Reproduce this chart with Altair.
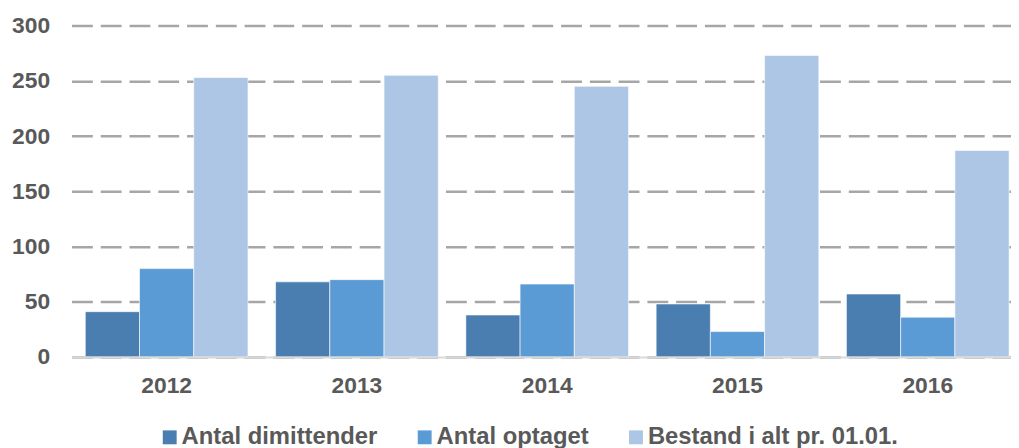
import altair as alt
import pandas as pd

years = ["2012", "2013", "2014", "2015", "2016"]
series = ["Antal dimittender", "Antal optaget", "Bestand i alt pr. 01.01."]
dimittender = [41, 68, 38, 48, 57]
optaget = [80, 70, 66, 23, 36]
bestand = [253, 255, 245, 273, 187]
colors = ["#4a7eb0", "#5b9bd5", "#adc6e5"]

rows = []
for i, y in enumerate(years):
    for s, vals in zip(series, [dimittender, optaget, bestand]):
        rows.append({"year": y, "series": s, "value": vals[i]})
df = pd.DataFrame(rows)

FONT = "Liberation Sans"
GRAY = "#595959"

chart = alt.Chart(df).mark_bar(stroke="#ffffff", strokeWidth=1, strokeOpacity=0.6).encode(
    x=alt.X("year:N", sort=years, title=None,
            scale=alt.Scale(range=[0, 959], paddingInner=0.145, paddingOuter=0.0725),
            axis=alt.Axis(labelAngle=0, labelFont=FONT, labelFontSize=23, labelFontWeight="bold",
                          labelColor=GRAY, ticks=False, labelPadding=18,
                          domainColor="#d9d9d9", domainWidth=2, zindex=1)),
    xOffset=alt.XOffset("series:N", sort=series, scale=alt.Scale(paddingInner=0, paddingOuter=0)),
    y=alt.Y("value:Q", title=None,
            scale=alt.Scale(domain=[0, 300], nice=False),
            axis=alt.Axis(values=[0, 50, 100, 150, 200, 250, 300], labelFont=FONT, labelFontSize=23,
                          labelFontWeight="bold", labelColor=GRAY, ticks=False, domain=False,
                          labelPadding=22, gridColor="#a6a6a6", gridWidth=2.5, gridDash=[21, 8])),
    color=alt.Color("series:N", sort=series, scale=alt.Scale(domain=series, range=colors),
                    legend=alt.Legend(title=None, orient="none", legendX=87, legendY=403,
                                      direction="horizontal", symbolType="square", symbolSize=196,
                                      symbolStrokeWidth=0, labelFont=FONT, labelFontSize=24,
                                      labelFontWeight="bold", labelColor=GRAY, labelOffset=0,
                                      columnPadding=35, labelLimit=400)),
).properties(
    width=947, height=334,
    autosize=alt.AutoSizeParams(type="none"),
    padding={"left": 64, "top": 16, "right": 0, "bottom": 90},
).configure_view(stroke=None)

chart.save("out.html", embed_options={"renderer": "svg", "actions": False})
